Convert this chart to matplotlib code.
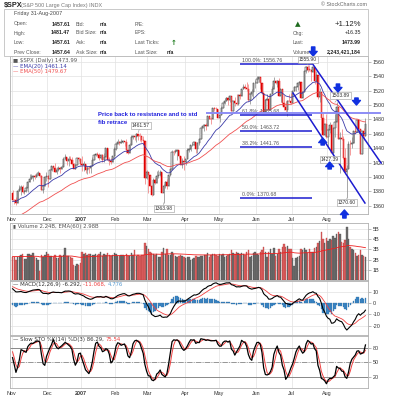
import numpy as np
import pandas as pd
import matplotlib
matplotlib.use("Agg")
import matplotlib.pyplot as plt
from matplotlib.transforms import Affine2D
from matplotlib.patches import Rectangle

plt.rcParams["font.family"] = ["Liberation Sans", "DejaVu Sans"]

# October 2006 is only used to warm up the indicators
oct_close = [1331.32, 1334.11, 1350.20, 1353.22, 1349.59, 1350.66, 1353.42, 1349.95, 1362.83, 1365.62, 1369.06,
             1364.05, 1365.80, 1366.96, 1368.60, 1377.02, 1377.38, 1382.22, 1389.08, 1377.34, 1377.93, 1377.94]
oct_high = [1339.31, 1338.31, 1350.20, 1353.79, 1353.22, 1352.69, 1354.23, 1353.59, 1363.05, 1366.63, 1369.20,
            1369.06, 1372.87, 1368.09, 1368.60, 1377.40, 1377.78, 1383.61, 1389.45, 1388.89, 1381.21, 1381.21]
oct_low = [1329.34, 1327.10, 1331.48, 1347.75, 1344.21, 1346.55, 1348.60, 1342.55, 1349.95, 1360.50, 1364.47,
           1356.87, 1360.95, 1362.06, 1362.06, 1363.94, 1372.42, 1376.00, 1379.47, 1375.85, 1373.46, 1372.19]

# daily $SPX, 1-Nov-2006 .. 31-Aug-2007
opens = [
    1377.76, 1367.81, 1367.34, 1364.30, 1379.78, 1382.84, 1385.72, 1378.33, 1380.90, 1384.42, 1393.22, 1396.57, 1399.76, 1401.20, 1400.50, 1402.81, 1406.09, 1400.95, 1381.96, 1386.72, 1399.48,
    1400.63, 1396.71, 1409.12, 1414.76, 1412.90, 1407.29, 1409.84, 1413.04, 1411.56, 1413.21, 1425.49, 1427.09, 1422.48, 1425.55, 1423.53, 1418.30, 1410.76, 1416.90, 1426.84, 1424.73,
    1418.30, 1416.60, 1418.34, 1409.71, 1412.84, 1412.11, 1414.85, 1423.82, 1430.73, 1431.90, 1430.62, 1426.37, 1430.50, 1422.95, 1427.99, 1440.13, 1423.90, 1422.18, 1420.62, 1428.82,
    1438.24, 1445.94, 1448.39, 1446.99, 1448.00, 1450.02, 1448.31, 1438.06, 1433.37, 1444.26, 1455.30, 1456.81, 1455.54, 1459.68, 1457.63, 1456.38, 1451.19, 1449.37, 1399.04,
    1406.82, 1403.17, 1387.17, 1374.12, 1395.41, 1391.97, 1401.89, 1402.84, 1406.60, 1377.95, 1387.17, 1392.28, 1386.95, 1402.06, 1410.94, 1435.04, 1434.54, 1436.11, 1437.50, 1428.61, 1417.23, 1422.53,
    1420.86, 1424.55, 1437.77, 1439.37, 1443.76, 1444.61, 1448.39, 1438.87, 1447.80, 1452.85, 1468.33, 1471.48, 1472.50, 1470.73, 1484.35, 1480.93, 1480.41, 1495.42, 1494.25, 1494.07,
    1482.37, 1486.30, 1495.92, 1502.39, 1505.62, 1509.48, 1507.72, 1512.58, 1491.47, 1505.85, 1503.15, 1501.19, 1514.14, 1512.75, 1522.75, 1525.10, 1524.12, 1522.28, 1507.51, 1515.73, 1518.11, 1530.23,
    1530.62, 1536.34, 1539.18, 1530.95, 1517.38, 1490.72, 1507.67, 1509.12, 1493.00, 1515.67, 1522.97, 1532.91, 1531.05, 1533.70, 1512.84, 1522.19, 1502.56, 1497.74, 1492.89, 1506.34, 1505.71,
    1503.35, 1519.43, 1524.87, 1525.40, 1530.44, 1531.85, 1510.12, 1518.76, 1547.70, 1552.50, 1549.52, 1549.37, 1546.17, 1553.08, 1534.10, 1541.57, 1511.04, 1518.09, 1482.66, 1458.95, 1473.91,
    1455.27, 1465.81, 1472.20, 1433.06, 1467.67, 1476.71, 1497.49, 1453.09, 1453.64, 1452.92, 1426.54, 1406.70, 1411.27, 1445.94, 1445.55, 1447.12, 1464.07, 1462.50, 1479.37, 1466.79, 1432.36, 1463.76, 1457.61]
highs = [
    1381.95, 1368.39, 1371.68, 1381.40, 1388.19, 1388.92, 1388.61, 1381.04, 1387.61, 1394.49, 1403.76, 1403.76, 1401.35, 1404.37, 1403.49, 1407.89, 1406.09, 1402.36, 1387.61, 1401.09, 1406.30,
    1402.46, 1409.12, 1415.27, 1415.27, 1418.95, 1414.09, 1415.60, 1413.78, 1416.64, 1427.23, 1431.63, 1428.30, 1428.69, 1429.42, 1427.72, 1418.82, 1417.91, 1427.00, 1427.59, 1427.00,
    1429.42, 1421.84, 1418.34, 1414.98, 1415.61, 1415.99, 1427.12, 1431.23, 1433.93, 1435.27, 1432.96, 1431.57, 1431.39, 1433.82, 1440.69, 1440.69, 1427.73, 1426.94, 1428.82, 1441.61,
    1446.64, 1452.99, 1449.33, 1452.99, 1451.97, 1450.02, 1453.00, 1438.06, 1447.32, 1457.97, 1456.81, 1456.81, 1460.53, 1459.68, 1461.57, 1456.38, 1456.95, 1449.37, 1409.46,
    1406.82, 1403.17, 1389.32, 1397.90, 1398.47, 1407.89, 1409.34, 1409.34, 1406.60, 1390.12, 1394.83, 1397.51, 1403.20, 1411.53, 1437.77, 1437.66, 1438.89, 1437.65, 1437.50, 1428.61, 1426.24, 1429.22,
    1424.95, 1440.57, 1440.16, 1444.88, 1448.10, 1448.39, 1448.39, 1448.10, 1453.11, 1468.62, 1474.35, 1474.25, 1474.57, 1484.74, 1484.35, 1483.82, 1495.42, 1498.02, 1497.16, 1494.07,
    1487.27, 1499.10, 1503.34, 1510.34, 1511.80, 1509.48, 1513.80, 1512.58, 1506.21, 1510.90, 1514.82, 1514.15, 1517.02, 1522.75, 1529.87, 1529.24, 1532.43, 1529.31, 1517.11, 1521.80, 1530.23, 1535.56,
    1540.53, 1540.56, 1539.18, 1530.95, 1517.38, 1507.76, 1515.53, 1513.51, 1515.67, 1526.45, 1538.71, 1535.44, 1535.10, 1537.32, 1522.49, 1522.19, 1514.29, 1506.12, 1506.42, 1514.84, 1517.53,
    1519.87, 1526.01, 1526.99, 1532.40, 1534.26, 1531.85, 1518.76, 1547.92, 1555.10, 1555.90, 1555.20, 1549.37, 1555.05, 1553.08, 1547.23, 1541.57, 1524.31, 1518.09, 1488.53, 1474.66, 1488.30,
    1468.43, 1476.43, 1473.23, 1467.67, 1488.30, 1503.89, 1497.49, 1462.02, 1466.29, 1456.74, 1440.78, 1415.99, 1450.33, 1451.75, 1456.13, 1464.07, 1472.41, 1479.37, 1479.37, 1466.79, 1463.76, 1468.43, 1481.47]
lows = [
    1366.62, 1362.21, 1360.98, 1364.27, 1379.78, 1374.66, 1377.48, 1375.60, 1378.80, 1379.07, 1393.22, 1396.57, 1394.55, 1397.16, 1399.99, 1402.26, 1399.57, 1381.75, 1377.83, 1386.72, 1393.83,
    1385.93, 1396.71, 1408.78, 1411.05, 1406.78, 1403.97, 1408.56, 1404.75, 1411.23, 1413.21, 1425.48, 1416.64, 1414.67, 1423.51, 1415.91, 1410.61, 1410.45, 1416.84, 1421.80, 1416.84,
    1407.86, 1408.43, 1405.32, 1403.97, 1405.42, 1405.58, 1414.84, 1422.95, 1428.62, 1428.84, 1424.21, 1425.38, 1420.40, 1421.04, 1427.99, 1422.34, 1416.96, 1418.46, 1420.61, 1424.72,
    1437.90, 1445.94, 1443.85, 1446.99, 1447.27, 1443.58, 1433.64, 1431.77, 1433.37, 1444.26, 1453.19, 1451.57, 1449.20, 1452.03, 1450.51, 1448.78, 1445.48, 1389.42, 1396.65,
    1377.71, 1386.87, 1373.40, 1374.12, 1389.82, 1391.97, 1398.40, 1401.23, 1377.71, 1363.98, 1385.16, 1383.63, 1386.95, 1400.70, 1409.38, 1429.88, 1433.93, 1423.28, 1426.70, 1416.76, 1413.00, 1408.90,
    1416.37, 1424.55, 1435.08, 1436.44, 1443.28, 1443.99, 1433.91, 1433.91, 1444.41, 1452.85, 1467.80, 1464.02, 1464.65, 1470.73, 1480.54, 1473.74, 1480.41, 1491.26, 1488.67, 1482.29,
    1476.70, 1486.30, 1495.92, 1501.80, 1505.62, 1500.66, 1503.77, 1491.42, 1491.47, 1498.34, 1500.46, 1500.67, 1509.05, 1512.75, 1522.71, 1522.05, 1519.90, 1505.18, 1501.68, 1512.02, 1510.06, 1523.32,
    1530.62, 1532.45, 1522.98, 1514.96, 1490.37, 1490.71, 1507.67, 1492.97, 1492.97, 1515.67, 1522.97, 1529.31, 1525.46, 1512.70, 1504.75, 1500.74, 1492.68, 1490.54, 1484.18, 1505.71, 1500.94,
    1503.35, 1519.43, 1519.34, 1520.47, 1527.45, 1510.00, 1510.12, 1518.76, 1544.85, 1546.69, 1547.23, 1533.67, 1546.17, 1529.42, 1534.10, 1508.62, 1503.84, 1465.81, 1458.95, 1457.10, 1454.25,
    1439.59, 1460.58, 1433.04, 1427.39, 1455.80, 1476.71, 1453.09, 1405.47, 1451.37, 1425.55, 1404.36, 1370.60, 1411.27, 1430.54, 1440.92, 1447.12, 1460.27, 1462.50, 1465.47, 1432.01, 1432.36, 1451.54, 1457.61]
closes = [
    1367.81, 1367.34, 1364.30, 1379.78, 1382.84, 1385.72, 1378.33, 1380.90, 1384.42, 1393.22, 1396.57, 1399.76, 1401.20, 1400.50, 1402.81, 1406.09, 1400.95, 1381.96, 1386.72, 1399.48, 1400.63,
    1396.71, 1409.12, 1414.76, 1412.90, 1407.29, 1409.84, 1413.04, 1411.56, 1413.21, 1425.49, 1427.09, 1422.48, 1425.55, 1423.53, 1418.30, 1410.76, 1416.90, 1426.84, 1424.73, 1418.30,
    1416.60, 1418.34, 1409.71, 1412.84, 1412.11, 1414.85, 1423.82, 1430.73, 1431.90, 1430.62, 1426.37, 1430.50, 1422.95, 1427.99, 1440.13, 1423.90, 1422.18, 1420.62, 1428.82, 1438.24,
    1445.94, 1448.39, 1446.99, 1448.00, 1450.02, 1448.31, 1438.06, 1433.37, 1444.26, 1455.30, 1456.81, 1455.54, 1459.68, 1457.63, 1456.38, 1451.19, 1449.37, 1399.04, 1406.82,
    1403.17, 1387.17, 1374.12, 1395.41, 1391.97, 1401.89, 1402.84, 1406.60, 1377.95, 1387.17, 1392.28, 1386.95, 1402.06, 1410.94, 1435.04, 1434.54, 1436.11, 1437.50, 1428.61, 1417.23, 1422.53, 1420.86,
    1424.55, 1437.77, 1439.37, 1443.76, 1444.61, 1448.39, 1438.87, 1447.80, 1452.85, 1468.33, 1471.48, 1472.50, 1470.73, 1484.35, 1480.93, 1480.41, 1495.42, 1494.25, 1494.07, 1482.37,
    1486.30, 1495.92, 1502.39, 1505.62, 1509.48, 1507.72, 1512.58, 1491.47, 1505.85, 1503.15, 1501.19, 1514.14, 1512.75, 1522.75, 1525.10, 1524.12, 1522.28, 1507.51, 1515.73, 1518.11, 1530.23, 1530.62,
    1536.34, 1539.18, 1530.95, 1517.38, 1490.72, 1507.67, 1509.12, 1493.00, 1515.67, 1522.97, 1532.91, 1531.05, 1533.70, 1512.84, 1522.19, 1502.56, 1497.74, 1492.89, 1506.34, 1505.71, 1503.35,
    1519.43, 1524.87, 1525.40, 1530.44, 1531.85, 1510.12, 1518.76, 1547.70, 1552.50, 1549.52, 1549.37, 1546.17, 1553.08, 1534.10, 1541.57, 1511.04, 1518.09, 1482.66, 1458.95, 1473.91, 1455.27,
    1465.81, 1472.20, 1433.06, 1467.67, 1476.71, 1497.49, 1453.09, 1453.64, 1452.92, 1426.54, 1406.70, 1411.27, 1445.94, 1445.55, 1447.12, 1464.07, 1462.50, 1479.37, 1466.79, 1432.36, 1463.76, 1457.64, 1473.99]
# volume in billions of shares
volume = [
    2.3, 2.3, 2.0, 2.3, 2.4, 2.5, 2.6, 2.1, 2.1, 2.6, 2.6, 2.5, 2.7, 2.3, 2.2, 2.0, 0.9, 2.5, 2.3, 2.5, 2.8,
    2.6, 2.4, 2.4, 2.3, 2.5, 2.2, 2.2, 2.5, 2.4, 2.5, 3.1, 2.4, 2.4, 2.3, 2.2, 1.5, 1.4, 1.6, 1.5, 1.7,
    2.8, 2.6, 2.7, 2.5, 2.6, 2.6, 2.5, 2.5, 2.6, 2.5, 2.6, 2.8, 2.4, 2.6, 2.5, 2.7, 2.5, 2.4, 2.5, 2.7,
    2.6, 2.4, 2.4, 2.5, 2.5, 2.4, 2.6, 2.4, 2.4, 2.7, 2.5, 2.9, 2.4, 2.5, 2.4, 2.5, 2.5, 3.6, 3.3,
    3.0, 2.8, 2.7, 2.6, 2.5, 2.6, 2.3, 2.3, 2.8, 3.1, 2.6, 3.0, 2.5, 2.5, 2.8, 2.6, 2.4, 2.3, 2.4, 2.5, 2.4, 2.3,
    2.2, 2.3, 2.3, 2.0, 2.1, 2.2, 2.4, 2.3, 2.3, 2.4, 2.4, 2.5, 2.5, 2.7, 2.3, 2.5, 2.6, 2.6, 2.5, 2.4,
    2.6, 2.5, 2.6, 2.3, 2.4, 2.5, 2.6, 2.9, 2.7, 2.6, 2.8, 2.7, 2.6, 2.7, 2.6, 2.5, 2.8, 2.9, 2.3, 2.4, 2.7, 2.8,
    2.6, 2.5, 2.8, 2.9, 3.2, 2.8, 2.3, 2.8, 3.0, 2.6, 3.1, 2.4, 2.6, 3.0, 2.8, 3.2, 3.5, 3.2, 3.3, 3.0, 3.0,
    2.2, 1.4, 2.2, 2.3, 2.4, 3.0, 2.9, 3.1, 2.9, 2.7, 3.0, 2.8, 2.8, 3.1, 3.2, 3.6, 3.8, 4.7, 4.0, 3.6, 4.1,
    3.8, 4.0, 3.9, 4.3, 4.1, 4.5, 4.7, 4.5, 3.7, 3.6, 3.9, 5.2, 4.0, 3.2, 3.0, 2.9, 2.7, 2.4, 2.5, 2.9, 2.5, 2.4, 2.24]

month_labels = ["Nov", "Dec", "2007", "Feb", "Mar", "Apr", "May", "Jun", "Jul", "Aug"]
month_start = [0, 21, 41, 61, 80, 102, 122, 144, 165, 186]

fib_names = ["100.0%", "61.8%", "50.0%", "38.2%", "0.0%"]
fib_levels = [1556.76, 1485.68, 1463.72, 1441.76, 1370.68]
fib_span = (134, 176.5)

# hand drawn annotations, in (bar index, price)
trend_lines = [((176.5, 1558.6), (217.2, 1419.3)), ((165.3, 1516.8), (207.7, 1363.6))]
resistance = (114.6, 216.5, 1488.6)
down_arrows = [(177.2, 1581.0, 1568.4), (191.8, 1529.4, 1518.2), (202.7, 1509.9, 1500.1)]
up_arrows = [(182.8, 1444.4, 1454.2), (186.9, 1411.0, 1420.7), (195.6, 1342.7, 1353.9)]
value_tags = [(74, 1461.57, 2, 5.5), (89, 1363.98, 0, -4.5), (174, 1555.90, 0, 3.6),
              (190, 1503.89, 4, 5), (189, 1427.39, -2.5, -1.5), (197, 1370.60, 0, -3.2)]

W, H = 393, 400
fig = plt.figure(figsize=(W / 100, H / 100), dpi=100)
pix = Affine2D().scale(1 / W, -1 / H).translate(0, 1) + fig.transFigure


def panel(top, bottom):
    return fig.add_axes([10 / W, 1 - bottom / H, 358 / W, (bottom - top) / H])


ax = panel(56, 214)
axv = panel(223, 280)
axm = panel(281, 335)
axs = panel(336, 388)

n0 = len(oct_close)
x = np.arange(len(closes))
o, hi, lo, c = (np.array(v) for v in (opens, highs, lows, closes))
c_all = pd.Series(oct_close + closes)
h_all = pd.Series(oct_high + highs)
l_all = pd.Series(oct_low + lows)


def ema(s, span, seed):
    s = pd.concat([pd.Series([seed]), pd.Series(s)], ignore_index=True)
    return s.ewm(span=span, adjust=False).mean().iloc[1:].to_numpy()


ema20 = ema(c_all, 20, 1322)[n0:]
ema50 = ema(c_all, 50, 1302)[n0:]
macd_all = ema(c_all, 12, 1326) - ema(c_all, 26, 1313)
signal_all = ema(macd_all, 9, 11)
macd, signal = macd_all[n0:], signal_all[n0:]
hist = macd - signal
ll = l_all.rolling(14, min_periods=1).min()
hh = h_all.rolling(14, min_periods=1).max()
fast_k = (c_all - ll) / (hh - ll) * 100
slow_k = fast_k.rolling(3, min_periods=1).mean()
slow_d = slow_k.rolling(3, min_periods=1).mean()
slow_k, slow_d = slow_k.to_numpy()[n0:], slow_d.to_numpy()[n0:]
vol_ema = ema(volume, 60, 2.3)

prev = np.r_[oct_close[-1], c[:-1]]
down = c < prev
col = np.where(down, "#e00000", "#111111")

# ---- price panel
ax.vlines(x, lo, hi, colors=np.where(down, "#ee6666", "#777777"), lw=0.45)
ax.bar(x, np.maximum(np.abs(c - o), 0.6), bottom=np.minimum(o, c), width=0.75,
       color=np.where(c >= o, "white", col), edgecolor=col, lw=0.35)
ax.plot(x, ema20, color="#3a3aa8", lw=0.6)
ax.plot(x, ema50, color="#f05050", lw=0.6)

ax.hlines(fib_levels, *fib_span, color="#1c1cd0", lw=1.1)
for name, lev in zip(fib_names, fib_levels):
    ax.text(fib_span[0] + 1, lev + 1.5, f"{name}: {lev:.2f}", fontsize=3.8, color="#555555", va="bottom")
ax.plot(resistance[:2], [resistance[2]] * 2, color="#8c8cf5", lw=1.4, clip_on=False, zorder=4)
for (x0, y0), (x1, y1) in trend_lines:
    ax.plot([x0, x1], [y0, y1], color="#1c1cd0", lw=1.1, clip_on=False, zorder=4)
for xi, tail, tip in down_arrows + up_arrows:
    ax.annotate("", xy=(xi, tip), xytext=(xi, tail), annotation_clip=False, zorder=8,
                arrowprops=dict(arrowstyle="simple,head_length=0.55,head_width=0.95,tail_width=0.4",
                                color="#1030e0", shrinkA=0, shrinkB=0, mutation_scale=6))
for xi, val, dx, dy in value_tags:
    ax.annotate(f"{val:.2f}", xy=(xi, val), xytext=(dx, dy), textcoords="offset points",
                ha="center", va="center", fontsize=3.6, color="#333333", zorder=7,
                bbox=dict(boxstyle="square,pad=0.2", fc="white", ec="#999999", lw=0.4),
                arrowprops=dict(arrowstyle="-", color="#999999", lw=0.4, shrinkA=0, shrinkB=0))
ax.text(50.4, 1486.5, "Price back to resistance and to std", color="#2020dd", fontsize=4.3,
        fontweight="bold", va="center")
ax.text(50.4, 1475.5, "fib retrace", color="#2020dd", fontsize=4.3, fontweight="bold", va="center")

# ---- volume
axv.bar(x, volume, width=0.85, color=np.where(down, "#dd6060", "#6c6c6c"),
        edgecolor=np.where(down, "#b84040", "#505050"), lw=0.25)
axv.plot(x, vol_ema, color="#ee2020", lw=0.6)

# ---- MACD
axm.bar(x, hist, width=0.8, color="#3c88c8", edgecolor="#2a6aa0", lw=0.2)
axm.plot(x, signal, color="#f04040", lw=0.6)
axm.plot(x, macd, color="black", lw=0.8)

# ---- slow stochastics
axs.axhline(80, color="#888888", lw=0.7)
axs.axhline(20, color="#888888", lw=0.7)
axs.axhline(50, color="#888888", lw=0.6, ls="-.")
axs.plot(x, slow_d, color="#f04040", lw=0.7)
axs.plot(x, slow_k, color="black", lw=0.9)

settings = [
    (ax, (1348.3, 1568.4), range(1360, 1561, 20), [str(v) for v in range(1360, 1561, 20)]),
    (axv, (0, 5.6), [1, 2, 3, 4, 5], ["1B", "2B", "3B", "4B", "5B"]),
    (axm, (-28.3, 19.5), [-20, -10, 0, 10], ["-20", "-10", "0", "10"]),
    (axs, (-2.8, 104.8), [20, 50, 80], ["20", "50", "80"]),
]
for a, ylim, ticks, labels in settings:
    a.set_xlim(-1.5, 209.5)
    a.set_ylim(*ylim)
    a.yaxis.tick_right()
    a.set_yticks(list(ticks))
    a.set_yticklabels(labels)
    a.set_xticks([m - 0.5 for m in month_start])
    a.set_xticklabels(month_labels)
    a.tick_params(axis="y", labelsize=3.9, length=2, width=0.4, color="#888888", pad=1.5, labelcolor="#333333")
    a.tick_params(axis="x", labelsize=3.9, length=0, pad=2.2, labelcolor="#333333")
    a.grid(True, color="#e2e2e2", lw=0.5)
    a.set_axisbelow(True)
    for s in a.spines.values():
        s.set_color("#b0b0b0")
        s.set_linewidth(0.6)
axv.tick_params(labelbottom=False)
axm.tick_params(labelbottom=False)
for a in (ax, axs):
    for t in a.get_xticklabels():
        if t.get_text() == "2007":
            t.set_fontweight("bold")


def legend(a, parts, y=0.985):
    t = a.text(0.008, y, parts[0][0], color=parts[0][1], fontsize=3.9, transform=a.transAxes, va="top",
               family="DejaVu Sans")
    for s, colr in parts[1:]:
        t = a.annotate(s, xy=(1, 0), xycoords=t, va="bottom", color=colr, fontsize=3.9, family="DejaVu Sans")


legend(ax, [("\u25a0 $SPX (Daily) 1473.99", "#555555")])
legend(ax, [("\u2014 EMA(20) 1461.14", "#3a3aa8")], y=0.95)
legend(ax, [("\u2014 EMA(50) 1479.67", "#f05050")], y=0.915)
legend(axv, [("\u25ae Volume 2.24B, EMA(60) 2.98B", "#555555")])
legend(axm, [("\u2014 MACD(12,26,9) -6.292, ", "#333333"), ("-11.068, ", "#f04040"), ("4.776", "#5a9bd0")])
legend(axs, [("\u2014 Slow STO %K(14) %D(3) 86.29, ", "#333333"), ("75.54", "#f04040")])

# ---- header block
fig.text(4, 5, "$SPX", transform=pix, fontsize=5.2, fontweight="bold", va="center", color="#222222")
fig.text(21, 5, "(S&P 500 Large Cap Index) INDX", transform=pix, fontsize=3.9, va="center", color="#777777")
fig.text(367, 4.5, "\u00a9 StockCharts.com", transform=pix, fontsize=3.8, va="center", ha="right", color="#666666")
fig.add_artist(Rectangle((4, 9), 364, 47, transform=pix, fill=False, ec="#c0c0c0", lw=0.6))

rows_y = [24, 33, 43, 52]
fig.text(14, 14, "Friday 31-Aug-2007", transform=pix, fontsize=3.9, va="center", color="#444444")
cells = [
    (["Open:", "High:", "Low:", "Prev Close:"], 14, "left", "normal"),
    (["1457.61", "1481.47", "1457.61", "1457.64"], 70, "right", "bold"),
    (["Bid:", "Bid Size:", "Ask:", "Ask Size:"], 76, "left", "normal"),
    (["n/a", "n/a", "n/a", "n/a"], 100, "left", "bold"),
    (["P/E:", "EPS:", "Last Ticks:", "Last Size:"], 135, "left", "normal"),
    (["Chg:", "Last:", "Volume:"], 293, "left", "normal"),
]
for texts, xp, ha, fw in cells:
    ys = rows_y if len(texts) == 4 else rows_y[1:]
    for s, yp in zip(texts, ys):
        fig.text(xp, yp, s, transform=pix, fontsize=3.7, va="center", ha=ha, fontweight=fw,
                 color="#222222" if fw == "bold" else "#555555")
fig.text(171, 43, "\u2191", transform=pix, fontsize=5, va="center", color="#1a7a1a", fontweight="bold",
         family="DejaVu Sans")
fig.text(167, 52, "n/a", transform=pix, fontsize=3.7, va="center", fontweight="bold", color="#222222")
fig.text(298, 24, "\u25b2", transform=pix, fontsize=5.2, va="center", ha="center", color="#1e6b1e",
         family="DejaVu Sans")
fig.text(361, 24, "+1.12%", transform=pix, fontsize=5.6, va="center", ha="right", color="#222222")
fig.text(361, 33, "+16.35", transform=pix, fontsize=3.8, va="center", ha="right", color="#222222")
fig.text(361, 43, "1473.99", transform=pix, fontsize=3.8, va="center", ha="right", fontweight="bold", color="#222222")
fig.text(361, 52, "2,243,421,184", transform=pix, fontsize=3.8, va="center", ha="right", fontweight="bold",
         color="#222222")

fig.savefig("out.png", dpi=100, facecolor="white")
